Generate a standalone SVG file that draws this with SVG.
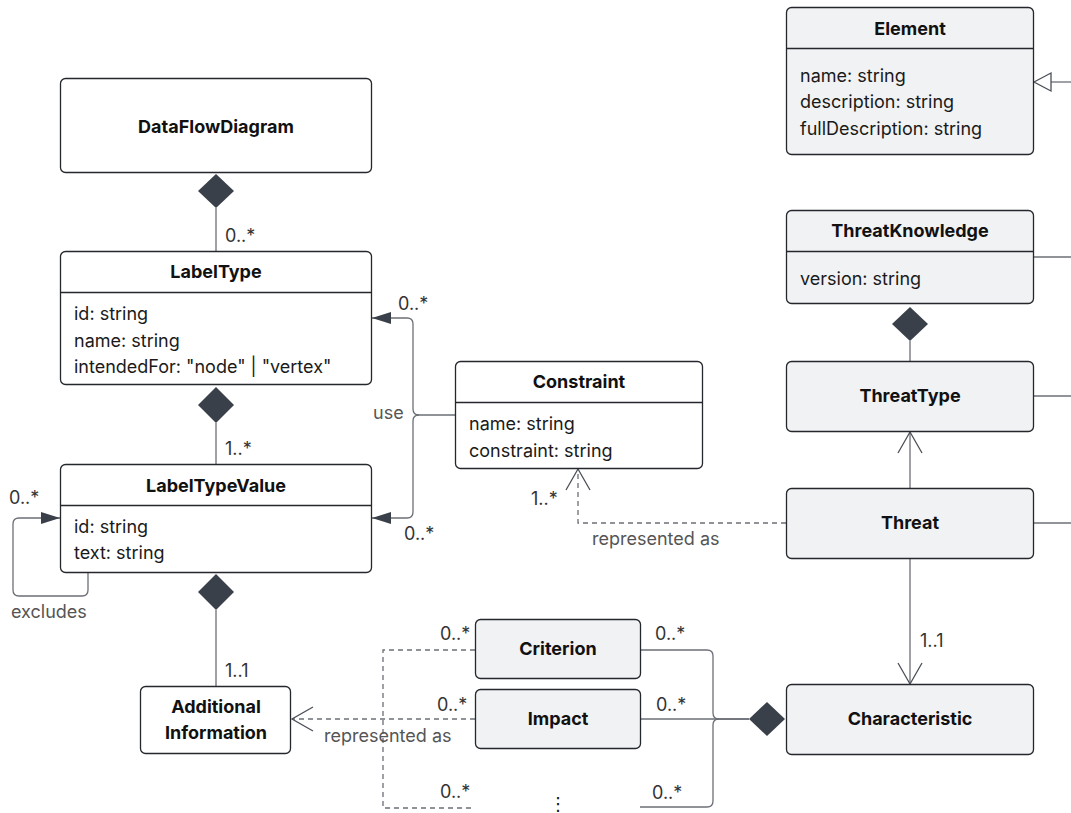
<svg xmlns="http://www.w3.org/2000/svg" width="1071" height="813" viewBox="0 0 1071 813">
  <style>
    .box { stroke: #24272c; stroke-width: 1.3; }
    .plain { fill: #ffffff; }
    .tinted { fill: #f1f2f4; }
    .div { stroke: #24272c; stroke-width: 1.3; }
    .title { font-family: Inter, "Liberation Sans", sans-serif; font-size: 18px; font-weight: 700; fill: #111111; text-anchor: middle; }
    .attr { font-family: Inter, "Liberation Sans", sans-serif; font-size: 18px; fill: #1a1a1a; }
    .mult { font-family: Inter, "Liberation Sans", sans-serif; font-size: 18px; fill: #333333; }
    .lbl { font-family: Inter, "Liberation Sans", sans-serif; font-size: 18px; fill: #555555; }
    .edge { fill: none; stroke: #6b6f76; stroke-width: 1.3; }
    .dash { stroke-dasharray: 5 4; }
    .diamond { fill: #3a4049; }
  </style>
  <defs>
    <marker id="filled" markerUnits="userSpaceOnUse" viewBox="0 0 19 12" refX="19" refY="6" markerWidth="19" markerHeight="12" orient="auto">
      <path d="M0,0 L19,6 L0,12 z" fill="#3a4049"/>
    </marker>
    <marker id="open" markerUnits="userSpaceOnUse" viewBox="0 0 24 28" refX="22" refY="14" markerWidth="24" markerHeight="28" orient="auto">
      <path d="M1,2 L22,14 L1,26" fill="none" stroke="#4b5058" stroke-width="1.3"/>
    </marker>
  </defs>

  <!-- connectors -->
  <g id="connectors">
    <!-- DataFlowDiagram composes LabelType -->
    <path class="edge" d="M216,208 V251"/>
    <polygon class="diamond" points="216,174 234,191 216,208 198,191"/>
    <!-- LabelType composes LabelTypeValue -->
    <path class="edge" d="M216,423 V464"/>
    <polygon class="diamond" points="216,387 234,405 216,423 198,405"/>
    <!-- LabelTypeValue composes Additional Information -->
    <path class="edge" d="M216,610 V687"/>
    <polygon class="diamond" points="216,574 234,592 216,610 198,592"/>
    <!-- excludes self association -->
    <path class="edge" d="M88,572 V590 Q88,596 82,596 H19 Q13,596 13,590 V524 Q13,518 19,518 H60" marker-end="url(#filled)"/>
    <!-- Constraint uses LabelType / LabelTypeValue -->
    <path class="edge" d="M455,415 H419 Q413,415 413,409 V324 Q413,318 407,318 H372" marker-end="url(#filled)"/>
    <path class="edge" d="M419,415 Q413,415 413,421 V512 Q413,518 407,518 H372" marker-end="url(#filled)"/>
    <!-- Threat represented as Constraint -->
    <path class="edge dash" d="M786,523 H578 V469" marker-end="url(#open)"/>
    <!-- ThreatKnowledge composes ThreatType -->
    <path class="edge" d="M910,341 V361"/>
    <polygon class="diamond" points="910,307 928,324 910,341 892,324"/>
    <!-- Threat to ThreatType -->
    <path class="edge" d="M910,488 V432" marker-end="url(#open)"/>
    <!-- Threat to Characteristic -->
    <path class="edge" d="M910,558 V684" marker-end="url(#open)"/>
    <!-- links leaving to the right -->
    <path class="edge" d="M1051,82 H1071"/>
    <polygon points="1034,82 1051,73 1051,91" fill="#ffffff" stroke="#4b5058" stroke-width="1.3"/>
    <path class="edge" d="M1033,257 H1071"/>
    <path class="edge" d="M1033,396 H1071"/>
    <path class="edge" d="M1033,523 H1071"/>
    <!-- Characteristic composes Criterion / Impact / more -->
    <path class="edge" d="M640,650 H707 Q713,650 713,656 V713 Q713,719 719,719 H749"/>
    <path class="edge" d="M640,719 H749"/>
    <path class="edge" d="M640,807 H707 Q713,807 713,801 V725 Q713,719 719,719"/>
    <polygon class="diamond" points="749,719 767,702 785,719 767,736"/>
    <!-- Criterion / Impact / more represented as Additional Information -->
    <path class="edge dash" d="M475,650 H383 V808 H475"/>
    <path class="edge dash" d="M475,719 H292" marker-end="url(#open)"/>

    <!-- multiplicities and labels -->
    <text class="mult" x="225" y="242">0..*</text>
    <text class="mult" x="225" y="455">1..*</text>
    <text class="mult" x="225" y="677">1..1</text>
    <text class="mult" x="9" y="504">0..*</text>
    <text class="lbl" x="11" y="618">excludes</text>
    <text class="lbl" x="373" y="419">use</text>
    <text class="mult" x="398" y="310">0..*</text>
    <text class="mult" x="404" y="540">0..*</text>
    <text class="mult" x="531" y="505">1..*</text>
    <text class="lbl" x="592" y="545">represented as</text>
    <text class="mult" x="920" y="647">1..1</text>
    <text class="mult" x="440" y="640">0..*</text>
    <text class="mult" x="437" y="711">0..*</text>
    <text class="mult" x="440" y="798">0..*</text>
    <text class="lbl" x="324" y="742">represented as</text>
    <text class="mult" x="655" y="640">0..*</text>
    <text class="mult" x="656" y="711">0..*</text>
    <text class="mult" x="652" y="799">0..*</text>
  </g>

  <g id="DataFlowDiagram">
    <rect class="box plain" x="60.5" y="78.5" width="311" height="94" rx="5"/>
    <text class="title" x="216" y="133">DataFlowDiagram</text>
  </g>

  <g id="LabelType">
    <rect class="box plain" x="60.5" y="251.5" width="311" height="133" rx="5"/>
    <line class="div" x1="60.5" y1="292.5" x2="371.5" y2="292.5"/>
    <text class="title" x="216" y="278">LabelType</text>
    <text class="attr" x="74" y="320">id: string</text>
    <text class="attr" x="74" y="347">name: string</text>
    <text class="attr" x="74" y="373">intendedFor: "node" | "vertex"</text>
  </g>

  <g id="LabelTypeValue">
    <rect class="box plain" x="60.5" y="464.5" width="311" height="108" rx="5"/>
    <line class="div" x1="60.5" y1="505.5" x2="371.5" y2="505.5"/>
    <text class="title" x="216" y="492">LabelTypeValue</text>
    <text class="attr" x="74" y="533">id: string</text>
    <text class="attr" x="74" y="559">text: string</text>
  </g>

  <g id="AdditionalInformation">
    <rect class="box plain" x="140.5" y="686.5" width="150" height="67" rx="5"/>
    <text class="title" x="216" y="713">Additional</text>
    <text class="title" x="216" y="739">Information</text>
  </g>

  <g id="Constraint">
    <rect class="box plain" x="455.5" y="361.5" width="247" height="107" rx="5"/>
    <line class="div" x1="455.5" y1="402.5" x2="702.5" y2="402.5"/>
    <text class="title" x="579" y="388">Constraint</text>
    <text class="attr" x="469" y="430">name: string</text>
    <text class="attr" x="469" y="457">constraint: string</text>
  </g>

  <g id="Element">
    <rect class="box tinted" x="786.5" y="7.5" width="247" height="147" rx="5"/>
    <line class="div" x1="786.5" y1="48.5" x2="1033.5" y2="48.5"/>
    <text class="title" x="910" y="35">Element</text>
    <text class="attr" x="800" y="82">name: string</text>
    <text class="attr" x="800" y="108">description: string</text>
    <text class="attr" x="800" y="135">fullDescription: string</text>
  </g>

  <g id="ThreatKnowledge">
    <rect class="box tinted" x="786.5" y="210.5" width="247" height="93" rx="5"/>
    <line class="div" x1="786.5" y1="251.5" x2="1033.5" y2="251.5"/>
    <text class="title" x="910" y="237">ThreatKnowledge</text>
    <text class="attr" x="800" y="285">version: string</text>
  </g>

  <g id="ThreatType">
    <rect class="box tinted" x="786.5" y="361.5" width="247" height="70" rx="5"/>
    <text class="title" x="910" y="402">ThreatType</text>
  </g>

  <g id="Threat">
    <rect class="box tinted" x="786.5" y="488.5" width="247" height="70" rx="5"/>
    <text class="title" x="910" y="529">Threat</text>
  </g>

  <g id="Characteristic">
    <rect class="box tinted" x="786.5" y="684.5" width="247" height="70" rx="5"/>
    <text class="title" x="910" y="725">Characteristic</text>
  </g>

  <g id="Criterion">
    <rect class="box tinted" x="475.5" y="619.5" width="165" height="59" rx="5"/>
    <text class="title" x="558" y="655">Criterion</text>
  </g>

  <g id="Impact">
    <rect class="box tinted" x="475.5" y="689.5" width="165" height="59" rx="5"/>
    <text class="title" x="558" y="725">Impact</text>
  </g>

  <g id="More">
    <text x="558" y="810" font-family="'DejaVu Sans', sans-serif" font-size="18" fill="#111111" text-anchor="middle">⋮</text>
  </g>
</svg>
